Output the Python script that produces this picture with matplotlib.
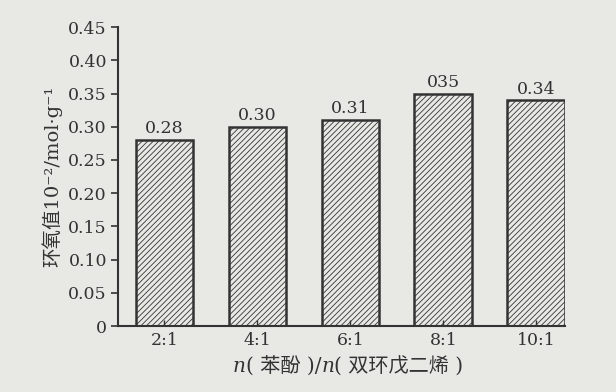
import matplotlib
matplotlib.use("Agg")
import matplotlib.pyplot as plt

ratios = ["2:1", "4:1", "6:1", "8:1", "10:1"]
epoxy_values = [0.28, 0.30, 0.31, 0.35, 0.34]
value_labels = ["0.28", "0.30", "0.31", "035", "0.34"]
y_ticks = [0, 0.05, 0.10, 0.15, 0.20, 0.25, 0.30, 0.35, 0.40, 0.45]
y_tick_labels = ["0", "0.05", "0.10", "0.15", "0.20", "0.25", "0.30", "0.35", "0.40", "0.45"]

bg = "#e8e8e5"
ink = "#333333"
serif_cjk = ["DejaVu Serif", "Noto Sans CJK SC"]

plt.rcParams["hatch.color"] = ink
plt.rcParams["hatch.linewidth"] = 0.6

fig = plt.figure(figsize=(6.16, 3.92), dpi=100, facecolor=bg)
ax = fig.add_axes([0.1916, 0.168, 0.7256, 0.763])
ax.set_facecolor(bg)

pos = list(range(len(ratios)))
ax.bar(pos, epoxy_values, width=0.62, color=bg, edgecolor=ink,
       linewidth=1.8, hatch="//////")
for x, v, lab in zip(pos, epoxy_values, value_labels):
    ax.text(x, v + 0.004, lab, ha="center", va="bottom", fontsize=12.5,
            family=serif_cjk, color=ink)

ax.set_xlim(-0.5, 4.31)
ax.set_ylim(0, 0.45)
ax.set_yticks(y_ticks)
ax.set_yticklabels(y_tick_labels, family=serif_cjk, fontsize=12.5, color=ink)
ax.set_xticks(pos)
ax.set_xticklabels(ratios, family=serif_cjk, fontsize=12.5, color=ink)
ax.tick_params(axis="y", direction="out", length=5, width=1.2, color=ink, pad=3)
ax.tick_params(axis="x", direction="in", length=4, width=1.0, color=ink, pad=4)
for side in ("top", "right"):
    ax.spines[side].set_visible(False)
for side in ("left", "bottom"):
    ax.spines[side].set_color(ink)
    ax.spines[side].set_linewidth(1.5)

ax.set_ylabel("环氧值10⁻²/mol·g⁻¹", family=serif_cjk, fontsize=14,
              color=ink, labelpad=4)

# x label pieces: italic n mixed with CJK text
t1 = fig.text(0.378, 0.05, "n", family="DejaVu Serif", style="italic",
              fontsize=14.5, color=ink, va="baseline")
t2 = ax.annotate("( 苯酚 )/", xy=(1, 0), xycoords=t1, va="bottom",
                 family=serif_cjk, fontsize=14.5, color=ink)
t3 = ax.annotate("n", xy=(1, 0), xycoords=t2, va="bottom",
                 family="DejaVu Serif", style="italic", fontsize=14.5, color=ink)
ax.annotate("( 双环戊二烯 )", xy=(1, 0), xycoords=t3, va="bottom",
            family=serif_cjk, fontsize=14.5, color=ink)

fig.savefig("out.png", dpi=100, facecolor=bg)
